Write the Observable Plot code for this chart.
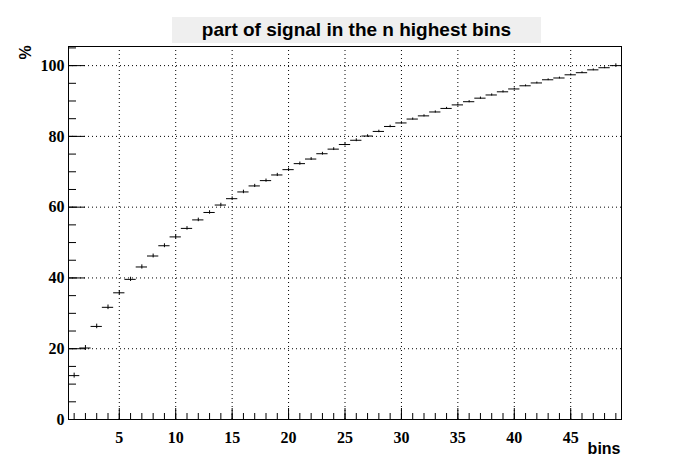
<!DOCTYPE html>
<html><head><meta charset="utf-8">
<script src="https://cdn.jsdelivr.net/npm/d3@7"></script>
<script src="https://cdn.jsdelivr.net/npm/@observablehq/plot@0.6"></script>
<style>
body{margin:0;background:#fff;}
#wrap{position:relative;width:689px;height:467px;}
#wrap svg{position:absolute;left:0;top:0;}
#title{position:absolute;left:172px;top:17px;width:369px;height:26px;background:#efefef;font:bold 19px "Liberation Sans",Arial,sans-serif;text-align:center;line-height:26px;z-index:2;color:#000;}
</style></head><body>
<div id="wrap"><div id="title">part of signal in the n highest bins</div></div>
<script>
const bins = [1,2,3,4,5,6,7,8,9,10,11,12,13,14,15,16,17,18,19,20,21,22,23,24,25,26,27,28,29,30,31,32,33,34,35,36,37,38,39,40,41,42,43,44,45,46,47,48,49];
const percent = [12.4,20.2,26.3,31.7,35.8,39.6,43.1,46.2,49.1,51.6,54.0,56.4,58.5,60.6,62.4,64.3,66.0,67.5,69.1,70.6,72.3,73.6,75.1,76.4,77.7,78.9,80.1,81.4,82.8,83.8,84.9,85.8,86.9,87.9,88.9,89.8,90.8,91.7,92.6,93.4,94.3,95.1,96.0,96.5,97.4,98.0,98.8,99.4,100.0];
const errors = [0.7,0.7,0.65,0.65,0.6,0.6,0.6,0.55,0.55,0.55,0.5,0.5,0.5,0.5,0.5,0.5,0.45,0.45,0.45,0.45,0.45,0.4,0.4,0.4,0.4,0.4,0.35,0.35,0.35,0.35,0.3,0.3,0.3,0.3,0.3,0.3,0.3,0.3,0.3,0.25,0.25,0.25,0.25,0.25,0.25,0.25,0.25,0.25,0.5];
const xTickLabels = [5,10,15,20,25,30,35,40,45];
const yTickLabels = [0,20,40,60,80,100];
const xMinorTicks = bins;
const yMinorTicks = [5,10,15,20,25,30,35,40,45,50,55,60,65,70,75,80,85,90,95,100,105];
const xDomain = [0.5, 49.5];
const yDomain = [0, 105.4];

const data = bins.map((n, i) => ({n, v: percent[i], e: errors[i]}));

const W = 689, H = 467, mL = 68, mR = 68, mT = 46, mB = 48;
const fw = W - mL - mR, fh = H - mT - mB;
const tickFont = '"Liberation Serif","Times New Roman",serif';
const sansFont = '"Liberation Sans",Arial,sans-serif';

const chart = Plot.plot({
  width: W, height: H,
  marginLeft: mL, marginRight: mR, marginTop: mT, marginBottom: mB,
  style: {background: "white", color: "black"},
  x: {domain: xDomain, axis: null},
  y: {domain: yDomain, axis: null},
  marks: [
    Plot.ruleX(xTickLabels, {x: d => d, stroke: "black", strokeDasharray: "1,3"}),
    Plot.ruleY(yTickLabels.filter(d => d > 0), {y: d => d, stroke: "black", strokeDasharray: "1,3"}),
    Plot.tickX(xMinorTicks, {x: d => d, stroke: "black", insetTop: fh - 6}),
    Plot.tickX(xTickLabels, {x: d => d, stroke: "black", insetTop: fh - 11}),
    Plot.tickY(yMinorTicks, {y: d => d, stroke: "black", insetRight: fw - 8}),
    Plot.tickY(yTickLabels, {y: d => d, stroke: "black", insetRight: fw - 17}),
    Plot.frame({stroke: "black"}),
    Plot.ruleY(data, {y: "v", x1: d => d.n - 0.5, x2: d => d.n + 0.5, stroke: "black"}),
    Plot.ruleX(data, {x: "n", y1: d => d.v - d.e, y2: d => d.v + d.e, stroke: "black"}),
    Plot.text(xTickLabels, {x: d => d, frameAnchor: "bottom", dy: 18, text: d => String(d), fontFamily: tickFont, fontWeight: "bold", fontSize: 16, fill: "black", lineAnchor: "middle"}),
    Plot.text(yTickLabels, {y: d => d, frameAnchor: "left", dx: -4, text: d => String(d), textAnchor: "end", fontFamily: tickFont, fontWeight: "bold", fontSize: 16, fill: "black", lineAnchor: "middle"}),
    Plot.text(["%"], {frameAnchor: "top-left", dx: -43, dy: 6, text: d => d, rotate: -90, fontFamily: sansFont, fontWeight: "bold", fontSize: 16, fill: "black", textAnchor: "middle", lineAnchor: "middle"}),
    Plot.text(["bins"], {frameAnchor: "bottom-right", dx: -1, dy: 29, text: d => d, textAnchor: "end", fontFamily: sansFont, fontWeight: "bold", fontSize: 16, fill: "black", lineAnchor: "middle"})
  ]
});
document.getElementById("wrap").appendChild(chart);
</script>
</body></html>
